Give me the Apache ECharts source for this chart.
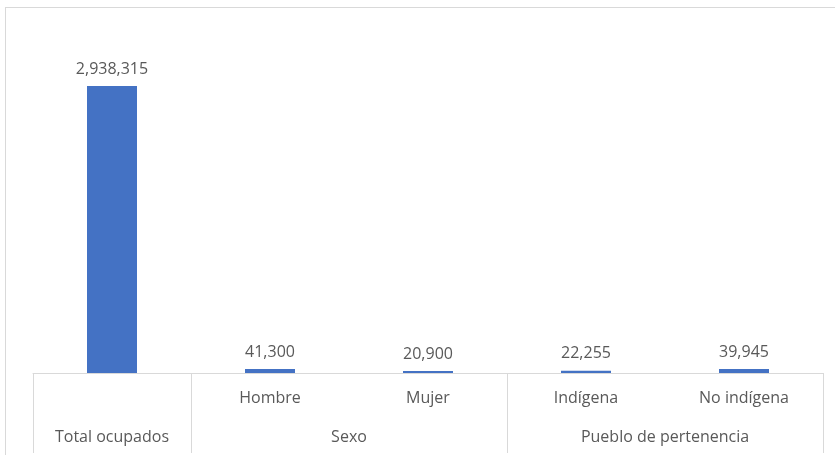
<!DOCTYPE html>
<html>
<head>
<meta charset="utf-8">
<script src="https://cdn.jsdelivr.net/npm/echarts@6/dist/echarts.min.js"></script>
<style>
  html, body { margin: 0; padding: 0; background: #fff; }
  #frame { position: absolute; left: 5px; top: 7px; width: 900px; height: 520px; border: 1px solid #d9d9d9; }
  #chart { position: absolute; left: 0; top: 0; width: 835px; height: 455px; }
</style>
</head>
<body>
<div id="frame"></div>
<div id="chart"></div>
<script>
// Ocupados por sexo y pueblo de pertenencia
const categories = ['', 'Hombre', 'Mujer', 'Indígena', 'No indígena'];
const values = [2938315, 41300, 20900, 22255, 39945];
// Group row: 11 points at half-category steps (0, 0.5, ..., 5)
const groupLabels = ['', 'Total ocupados', '', '', 'Sexo', '', '', '', 'Pueblo de pertenencia', '', ''];
const groupBoundaries = [0, 2, 6, 10];

const font = '"Open Sans", "Noto Sans", sans-serif';
const textColor = '#595959';
const lineColor = '#d9d9d9';
const fontSize = 16;

const chart = echarts.init(document.getElementById('chart'), null, { renderer: 'canvas' });
chart.setOption({
  animation: false,
  backgroundColor: 'transparent',
  grid: { left: 33, right: 12, top: 80, bottom: 82 },
  xAxis: [
    {
      type: 'category',
      data: categories,
      axisLine: { show: true, lineStyle: { color: lineColor, width: 1 } },
      axisTick: { show: false },
      axisLabel: { color: textColor, fontSize: fontSize, fontFamily: font, margin: 17, interval: 0 }
    },
    {
      type: 'category',
      data: groupLabels,
      boundaryGap: false,
      position: 'bottom',
      axisLine: { show: false },
      axisTick: {
        show: true,
        length: 80,
        interval: function (i) { return groupBoundaries.indexOf(i) >= 0; },
        lineStyle: { color: lineColor, width: 1 }
      },
      axisLabel: { color: textColor, fontSize: fontSize, fontFamily: font, margin: 56, interval: 0 }
    }
  ],
  yAxis: { type: 'value', min: 0, max: 3000000, show: false, splitLine: { show: false } },
  series: [{
    type: 'bar',
    data: values,
    barWidth: 50,
    itemStyle: { color: '#4472c4' },
    label: {
      show: true,
      position: 'top',
      distance: 9,
      color: textColor,
      fontSize: fontSize,
      fontFamily: font,
      formatter: function (p) { return p.value.toLocaleString('en-US'); }
    }
  }]
});
</script>
</body>
</html>
